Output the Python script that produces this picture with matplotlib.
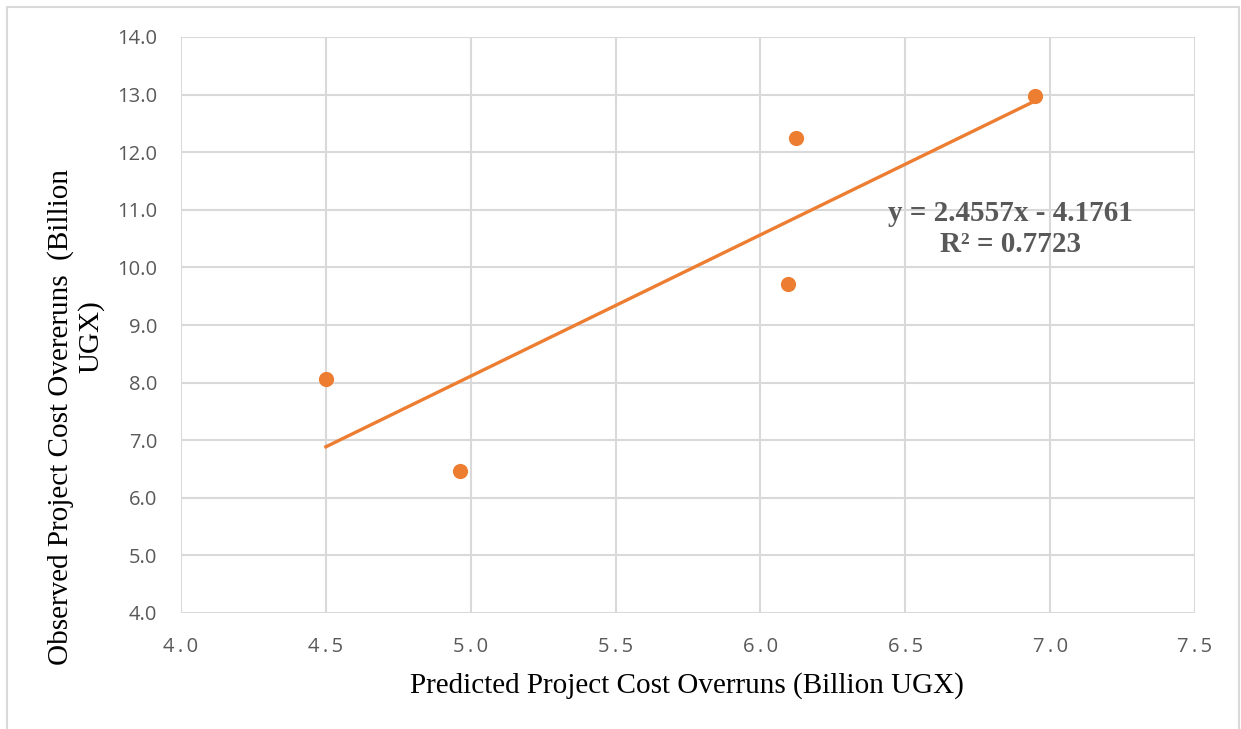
import matplotlib
matplotlib.use("Agg")
import matplotlib.pyplot as plt
import numpy as np
from matplotlib.ticker import FuncFormatter
from matplotlib.patches import Rectangle

# values
predicted = [4.50, 4.963, 6.095, 6.123, 6.948]
observed = [8.06, 6.465, 9.71, 12.25, 12.976]

x_ticks = [4.0, 4.5, 5.0, 5.5, 6.0, 6.5, 7.0, 7.5]
y_ticks = [4.0, 5.0, 6.0, 7.0, 8.0, 9.0, 10.0, 11.0, 12.0, 13.0, 14.0]

orange = "#ED7D31"
grid_c = "#D9D9D9"
tick_c = "#595959"

fig = plt.figure(figsize=(12.41, 7.29), dpi=100)
W, H = 1241, 729
ax = fig.add_axes([181 / W, 1 - 613 / H, (1195 - 181) / W, (613 - 37) / H])

# outer frame (open at the bottom)
fig.patches.append(Rectangle((7 / W, -0.05), (1239 - 7) / W, 1.05 - 7 / H,
                             transform=fig.transFigure, fill=False,
                             edgecolor=grid_c, linewidth=1.5))

ax.scatter(predicted, observed, s=120, color=orange, zorder=3, linewidths=0)

# linear trendline
slope, icpt = np.polyfit(predicted, observed, 1)
xs = np.array([min(predicted), max(predicted)])
ax.plot(xs, slope * xs + icpt, color=orange, linewidth=2.4, zorder=2)

ax.set_xlim(4.0, 7.5)
ax.set_ylim(4.0, 14.0)
ax.set_xticks(x_ticks)
ax.set_yticks(y_ticks)
ax.xaxis.set_major_formatter(FuncFormatter(lambda v, p: "\u2009".join(f"{v:.1f}")))
ax.yaxis.set_major_formatter(FuncFormatter(lambda v, p: f"{v:.1f}"))
ax.grid(True, color=grid_c, linewidth=1.5)
ax.set_axisbelow(True)
for s in ax.spines.values():
    s.set_visible(False)
ax.tick_params(length=0, colors=tick_c, labelsize=14.5)
ax.tick_params(axis="y", pad=17)
ax.tick_params(axis="x", pad=17)
for lab in ax.get_xticklabels() + ax.get_yticklabels():
    lab.set_fontfamily("Open Sans")

fig.text(687 / W, 1 - 686 / H, "Predicted Project Cost Overruns (Billion UGX)",
         ha="center", va="center", fontsize=21, family="Liberation Serif")
fig.text(61 / W, 1 - 417 / H, "Observed Project Cost Overeruns  (Billion",
         ha="center", va="center", rotation=90, fontsize=21,
         family="Liberation Serif")
fig.text(91 / W, 1 - 337 / H, "UGX)", ha="center", va="center", rotation=90,
         fontsize=21, family="Liberation Serif")

fig.text(1010 / W, 1 - 229 / H, "y = 2.4557x - 4.1761\nR\u00b2 = 0.7723",
         ha="center", va="center", fontsize=21, fontweight="bold",
         color=tick_c, family="Liberation Serif", linespacing=1.15)

fig.savefig("out.png", dpi=100)
